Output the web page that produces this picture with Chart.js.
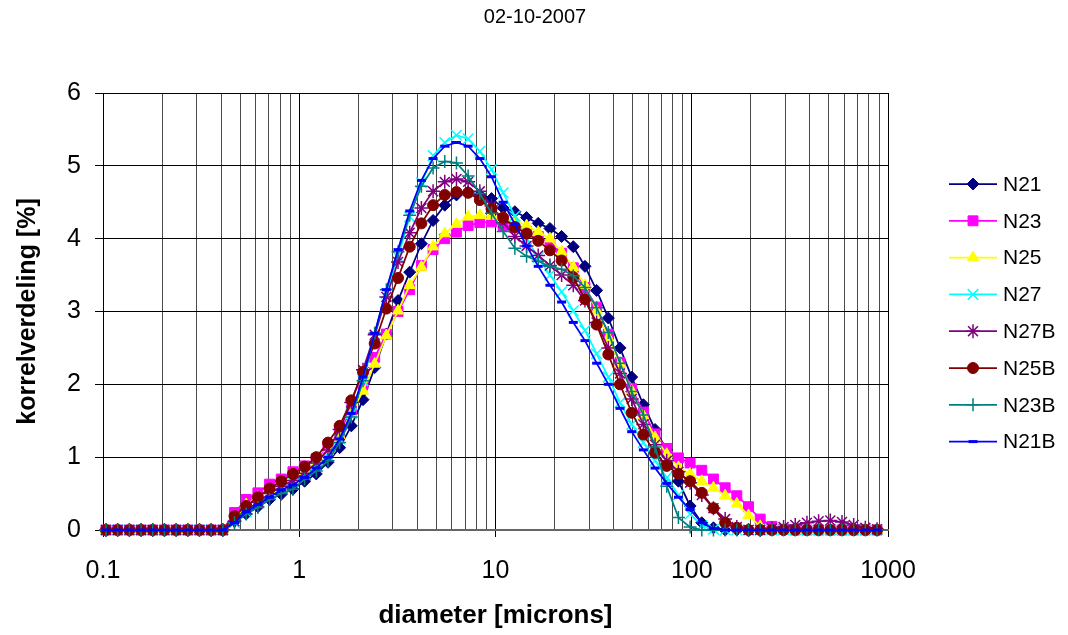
<!DOCTYPE html>
<html>
<head>
<meta charset="utf-8">
<title>02-10-2007</title>
<script src="https://cdn.jsdelivr.net/npm/chart.js@4.4.1/dist/chart.umd.min.js"></script>
<style>
  html, body { margin: 0; padding: 0; background: #fff; }
  #wrap { width: 1068px; height: 635px; }
</style>
</head>
<body>
<div id="wrap"><canvas id="grainChart" width="1068" height="635"></canvas></div>
<script>
// size classes of the laser diffraction run [microns]
const diameters = [
  0.1036, 0.1188, 0.1363, 0.1563, 0.1792, 0.2056, 0.2358, 0.2704, 0.3101, 0.3557,
  0.4079, 0.4678, 0.5366, 0.6154, 0.7058, 0.8095, 0.9284, 1.065, 1.221, 1.401,
  1.606, 1.842, 2.113, 2.423, 2.779, 3.187, 3.655, 4.192, 4.808, 5.515,
  6.325, 7.254, 8.320, 9.542, 10.94, 12.55, 14.40, 16.51, 18.94, 21.72,
  24.91, 28.57, 32.76, 37.58, 43.10, 49.43, 56.69, 65.02, 74.57, 85.53,
  98.09, 112.5, 129.0, 148.0, 169.7, 194.7, 223.3, 256.1, 293.7, 336.8,
  386.3, 443.1, 508.1, 582.8, 668.4, 766.6, 879.2
];

// korrelverdeling [%] per sample
const N21 = [
  0, 0, 0, 0, 0, 0, 0, 0, 0, 0, 0,
  0.12, 0.22, 0.32, 0.42, 0.49, 0.56, 0.67, 0.77, 0.93, 1.13,
  1.43, 1.79, 2.23, 2.69, 3.15, 3.54, 3.93, 4.25, 4.46, 4.60,
  4.64, 4.60, 4.55, 4.42, 4.37, 4.29, 4.21, 4.14, 4.03, 3.89,
  3.62, 3.29, 2.91, 2.50, 2.10, 1.72, 1.38, 1.10, 0.67, 0.33,
  0.10, 0.03, 0, 0, 0, 0, 0, 0, 0, 0,
  0, 0, 0, 0, 0, 0
];
const N23 = [
  0, 0, 0, 0, 0, 0, 0, 0, 0, 0, 0,
  0.24, 0.42, 0.51, 0.63, 0.70, 0.80, 0.88, 0.98, 1.12, 1.35,
  1.65, 2.00, 2.37, 2.69, 3.00, 3.30, 3.63, 3.85, 4.00, 4.09,
  4.18, 4.22, 4.23, 4.18, 4.15, 4.10, 4.03, 3.93, 3.80, 3.60,
  3.33, 3.06, 2.69, 2.30, 1.94, 1.62, 1.32, 1.12, 0.99, 0.92,
  0.82, 0.70, 0.58, 0.47, 0.32, 0.15, 0.05, 0.01, 0, 0,
  0, 0, 0, 0, 0, 0
];
const N25 = [
  0, 0, 0, 0, 0, 0, 0, 0, 0, 0, 0,
  0.14, 0.35, 0.45, 0.55, 0.63, 0.72, 0.80, 0.92, 1.08, 1.30,
  1.60, 1.91, 2.28, 2.67, 3.01, 3.36, 3.61, 3.89, 4.07, 4.20,
  4.30, 4.32, 4.31, 4.28, 4.25, 4.18, 4.09, 4.00, 3.82, 3.61,
  3.36, 3.01, 2.64, 2.28, 1.91, 1.57, 1.27, 1.04, 0.86, 0.77,
  0.67, 0.58, 0.47, 0.36, 0.20, 0.05, 0, 0, 0, 0,
  0, 0, 0, 0, 0, 0
];
const N27 = [
  0, 0, 0, 0, 0, 0, 0, 0, 0, 0, 0,
  0.10, 0.25, 0.38, 0.50, 0.58, 0.66, 0.77, 0.88, 1.02, 1.25,
  1.60, 2.05, 2.65, 3.25, 3.75, 4.30, 4.77, 5.14, 5.32, 5.42,
  5.37, 5.20, 4.95, 4.63, 4.31, 4.00, 3.74, 3.50, 3.27, 3.01,
  2.74, 2.42, 2.10, 1.75, 1.45, 1.20, 0.95, 0.72, 0.48, 0.22,
  0.06, 0.01, 0, 0, 0, 0, 0, 0, 0, 0,
  0, 0, 0, 0, 0, 0
];
const N27B = [
  0, 0, 0, 0, 0, 0, 0, 0, 0, 0, 0,
  0.12, 0.27, 0.38, 0.50, 0.60, 0.68, 0.78, 0.92, 1.10, 1.38,
  1.75, 2.20, 2.68, 3.20, 3.68, 4.08, 4.42, 4.65, 4.78, 4.82,
  4.78, 4.65, 4.45, 4.22, 4.03, 3.90, 3.77, 3.63, 3.50, 3.36,
  3.15, 2.85, 2.50, 2.15, 1.80, 1.45, 1.17, 0.95, 0.80, 0.65,
  0.48, 0.30, 0.15, 0.04, 0, 0, 0.02, 0.04, 0.07, 0.10,
  0.12, 0.13, 0.11, 0.07, 0.03, 0.01
];
const N25B = [
  0, 0, 0, 0, 0, 0, 0, 0, 0, 0, 0,
  0.19, 0.33, 0.45, 0.57, 0.67, 0.77, 0.87, 1.00, 1.20, 1.43,
  1.78, 2.17, 2.56, 3.04, 3.46, 3.89, 4.21, 4.46, 4.60, 4.64,
  4.63, 4.53, 4.41, 4.29, 4.16, 4.07, 3.97, 3.84, 3.70, 3.47,
  3.17, 2.82, 2.41, 2.00, 1.61, 1.31, 1.06, 0.88, 0.77, 0.67,
  0.51, 0.30, 0.10, 0.03, 0, 0, 0, 0, 0, 0,
  0, 0, 0, 0, 0, 0
];
const N23B = [
  0, 0, 0, 0, 0, 0, 0, 0, 0, 0, 0,
  0.10, 0.22, 0.31, 0.42, 0.50, 0.56, 0.70, 0.81, 0.95, 1.20,
  1.55, 2.05, 2.70, 3.30, 3.82, 4.32, 4.72, 4.97, 5.06, 5.04,
  4.86, 4.62, 4.35, 4.10, 3.87, 3.76, 3.69, 3.62, 3.58, 3.49,
  3.33, 3.05, 2.71, 2.29, 1.90, 1.58, 1.14, 0.60, 0.17, 0.04,
  0, 0, 0, 0, 0, 0, 0, 0, 0, 0,
  0, 0, 0, 0, 0, 0
];
const N21B = [
  0, 0, 0, 0, 0, 0, 0, 0, 0, 0, 0,
  0.10, 0.25, 0.35, 0.45, 0.55, 0.62, 0.72, 0.85, 1.00, 1.25,
  1.60, 2.10, 2.70, 3.30, 3.85, 4.38, 4.80, 5.10, 5.27, 5.32,
  5.27, 5.10, 4.85, 4.50, 4.20, 3.90, 3.62, 3.36, 3.13, 2.85,
  2.60, 2.29, 2.00, 1.67, 1.35, 1.10, 0.85, 0.64, 0.45, 0.28,
  0.10, 0.02, 0, 0, 0, 0, 0, 0, 0, 0,
  0, 0, 0, 0, 0, 0
];

const seriesNames = ['N21', 'N23', 'N25', 'N27', 'N27B', 'N25B', 'N23B', 'N21B'];
const seriesValues = [N21, N23, N25, N27, N27B, N25B, N23B, N21B];

const xTickValues = [0.1, 1, 10, 100, 1000];
const xTickLabels = ['0.1', '1', '10', '100', '1000'];

const chartTitle = '02-10-2007';
const xAxisTitle = 'diameter [microns]';
const yAxisTitle = 'korrelverdeling [%]';

// look of each series (excel default palette / markers)
const seriesColors = ['#000080', '#ff00ff', '#ffff00', '#00ffff', '#800080', '#800000', '#008080', '#0000ff'];
const seriesMarkers = ['rectRot', 'rect', 'triangle', 'crossRot', 'star', 'circle', 'cross', 'line'];
const markerRadius = [6, 7, 6.5, 7.5, 7, 5.5, 6.5, 4.5];
const markerBorder = [1, 1, 1, 1.5, 1.5, 1, 1.5, 3];

const FONT = 'Arial, "Liberation Sans", sans-serif';

// gridlines on 1..9 x 10^n like the excel log axis
const gridValues = [];
xTickValues.forEach((d, i) => {
  if (i === xTickValues.length - 1) { gridValues.push(d); return; }
  for (let m = 1; m < 10; m++) gridValues.push(Number((m * d).toPrecision(6)));
});

const decadeIndex = (v) => xTickValues.findIndex(t => Math.abs(t - v) < t * 1e-6);

const datasets = seriesNames.map((name, i) => ({
  label: name,
  data: seriesValues[i],
  borderColor: seriesColors[i],
  backgroundColor: seriesColors[i],
  borderWidth: 1.75,
  pointStyle: seriesMarkers[i],
  pointRadius: markerRadius[i],
  pointBorderWidth: markerBorder[i],
  pointBackgroundColor: seriesColors[i],
  pointBorderColor: seriesColors[i],
  tension: 0,
  clip: false,
  order: seriesNames.length - i // last series ends up on top, as in excel
}));

// title + line/marker legend drawn the excel way
const sheetDecor = {
  id: 'sheetDecor',
  afterDraw(chart) {
    const ctx = chart.ctx;
    ctx.save();
    ctx.fillStyle = '#000';
    ctx.font = '20px ' + FONT;
    ctx.textAlign = 'center';
    ctx.textBaseline = 'middle';
    ctx.fillText(chartTitle, 535, 17);

    ctx.font = '21px ' + FONT;
    ctx.textAlign = 'left';
    chart.data.datasets.forEach((ds, i) => {
      const y = 184 + i * 36.8;
      ctx.strokeStyle = ds.borderColor;
      ctx.lineWidth = ds.borderWidth;
      ctx.beginPath();
      ctx.moveTo(949, y);
      ctx.lineTo(997, y);
      ctx.stroke();
      ctx.fillStyle = ds.pointBackgroundColor;
      ctx.strokeStyle = ds.pointBorderColor;
      ctx.lineWidth = ds.pointBorderWidth;
      Chart.helpers.drawPoint(ctx, {
        pointStyle: ds.pointStyle,
        radius: ds.pointRadius,
        borderWidth: ds.pointBorderWidth,
        rotation: 0
      }, 973, y);
      ctx.fillStyle = '#000';
      ctx.fillText(ds.label, 1003, y + 1);
    });
    ctx.restore();
  }
};

new Chart(document.getElementById('grainChart'), {
  type: 'line',
  data: { labels: diameters, datasets: datasets },
  options: {
    responsive: false,
    animation: false,
    events: [],
    layout: { padding: { top: 93, right: 180, left: 0, bottom: 0 } },
    plugins: {
      legend: { display: false },
      title: { display: false },
      tooltip: { enabled: false }
    },
    scales: {
      x: {
        type: 'logarithmic',
        min: 0.1,
        max: 1000,
        afterBuildTicks: (scale) => {
          scale.ticks = gridValues.map(v => ({ value: v }));
        },
        afterFit: (scale) => { scale.height = 105; },
        ticks: {
          autoSkip: false,
          maxRotation: 0,
          padding: 19,
          color: '#000',
          font: { family: FONT, size: 25 },
          callback: (value) => {
            const idx = decadeIndex(value);
            return idx >= 0 ? xTickLabels[idx] : '';
          }
        },
        grid: {
          lineWidth: 1,
          tickLength: 7,
          color: (ctx) => (ctx.tick && decadeIndex(ctx.tick.value) >= 0) ? '#000' : '#4a4a4a',
          tickColor: (ctx) => (ctx.tick && decadeIndex(ctx.tick.value) >= 0) ? '#000' : 'rgba(0,0,0,0)'
        },
        border: { display: true, color: '#666', width: 2 },
        title: {
          display: true,
          text: xAxisTitle,
          color: '#000',
          font: { family: FONT, size: 26, weight: 'bold', lineHeight: 1.2 },
          padding: { top: 0, bottom: 4 }
        }
      },
      y: {
        min: 0,
        max: 6,
        afterFit: (scale) => { scale.width = 103; },
        ticks: {
          stepSize: 1,
          padding: 14,
          color: '#000',
          font: { family: FONT, size: 25 }
        },
        grid: { color: '#000', lineWidth: 1, tickLength: 8, tickColor: '#000' },
        border: { display: true, color: '#000', width: 1 },
        title: {
          display: true,
          text: yAxisTitle,
          color: '#000',
          font: { family: FONT, size: 25, weight: 'bold', lineHeight: 1.2 },
          padding: { top: 13, bottom: 0 }
        }
      }
    }
  },
  plugins: [sheetDecor]
});
</script>
</body>
</html>
